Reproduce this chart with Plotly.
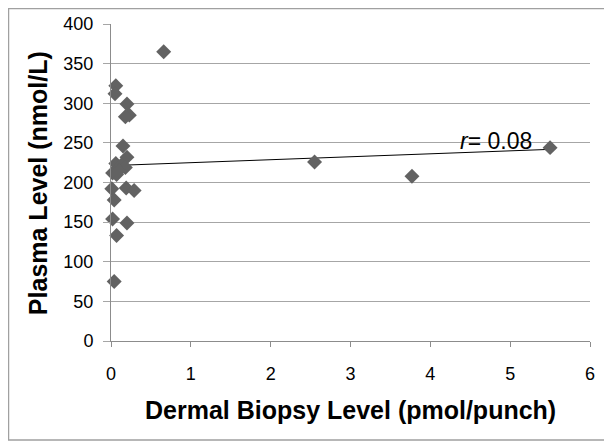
import numpy as np
import plotly.graph_objects as go

biopsy = [0.66, 0.06, 0.05, 0.20, 0.23, 0.18, 0.15, 0.20, 0.06, 0.13, 0.18,
          0.02, 0.07, 0.10, 0.01, 0.19, 0.29, 0.04, 0.02, 0.20, 0.07, 0.04,
          2.55, 3.77, 5.50]
plasma = [365, 322, 312, 299, 285, 283, 246, 232, 224, 222, 219,
          212, 210, 215, 192, 193, 190, 178, 154, 149, 133, 75,
          226, 208, 244]

r_label = "<i>r</i>= 0.08"
x_title = "<b>Dermal Biopsy Level (pmol/punch)</b>"
y_title = "<b>Plasma Level (nmol/L)</b>"

x = np.array(biopsy)
y = np.array(plasma)
slope, intercept = np.polyfit(x, y, 1)
xs = np.array([x.min(), x.max()])
ys = slope * xs + intercept

fig = go.Figure()
fig.add_trace(go.Scatter(x=xs, y=ys, mode="lines",
                         line=dict(color="black", width=1), hoverinfo="skip"))
fig.add_trace(go.Scatter(x=biopsy, y=plasma, mode="markers", cliponaxis=False,
                         marker=dict(symbol="diamond", size=11.5, color="#626262",
                                     line=dict(width=0))))

fig.add_annotation(x=4.82, y=253, text=r_label, showarrow=False,
                   font=dict(family="Liberation Sans", size=23, color="black"))

# axis titles
fig.add_annotation(xref="paper", yref="paper", x=0.499, y=-0.2177,
                   text=x_title, showarrow=False, xanchor="center", yanchor="middle",
                   font=dict(family="Liberation Sans", size=25, color="black"))
fig.add_annotation(xref="paper", yref="paper", x=-0.1524, y=0.498,
                   text=y_title, showarrow=False, textangle=-90,
                   xanchor="center", yanchor="middle",
                   font=dict(family="Liberation Sans", size=25, color="black"))

fig.update_layout(
    width=604, height=439,
    margin=dict(l=103, r=22, t=16, b=106),
    paper_bgcolor="white", plot_bgcolor="white",
    showlegend=False,
    font=dict(family="Liberation Sans", color="black"),
    xaxis=dict(range=[0, 6], dtick=1, showgrid=False, zeroline=False,
               automargin=False, ticklabelstandoff=11,
               showline=True, linecolor="#8c8c8c", linewidth=1,
               ticks="outside", ticklen=5, tickcolor="#8c8c8c",
               tickfont=dict(size=18, family="Liberation Sans")),
    yaxis=dict(range=[0, 400], dtick=50, showgrid=True, gridcolor="#a6a6a6",
               gridwidth=1, zeroline=False, automargin=False, ticklabelstandoff=6,
               showline=True, linecolor="#8c8c8c", linewidth=1,
               ticks="outside", ticklen=7, tickcolor="#a6a6a6",
               tickfont=dict(size=18, family="Liberation Sans")),
)

fig.add_shape(type="rect", xref="paper", yref="paper",
              x0=-0.214, x1=1.0334, y0=-0.3123, y1=1.0489,
              line=dict(color="#a0a0a0", width=1.5), fillcolor="rgba(0,0,0,0)")

fig.write_html("out.html")
